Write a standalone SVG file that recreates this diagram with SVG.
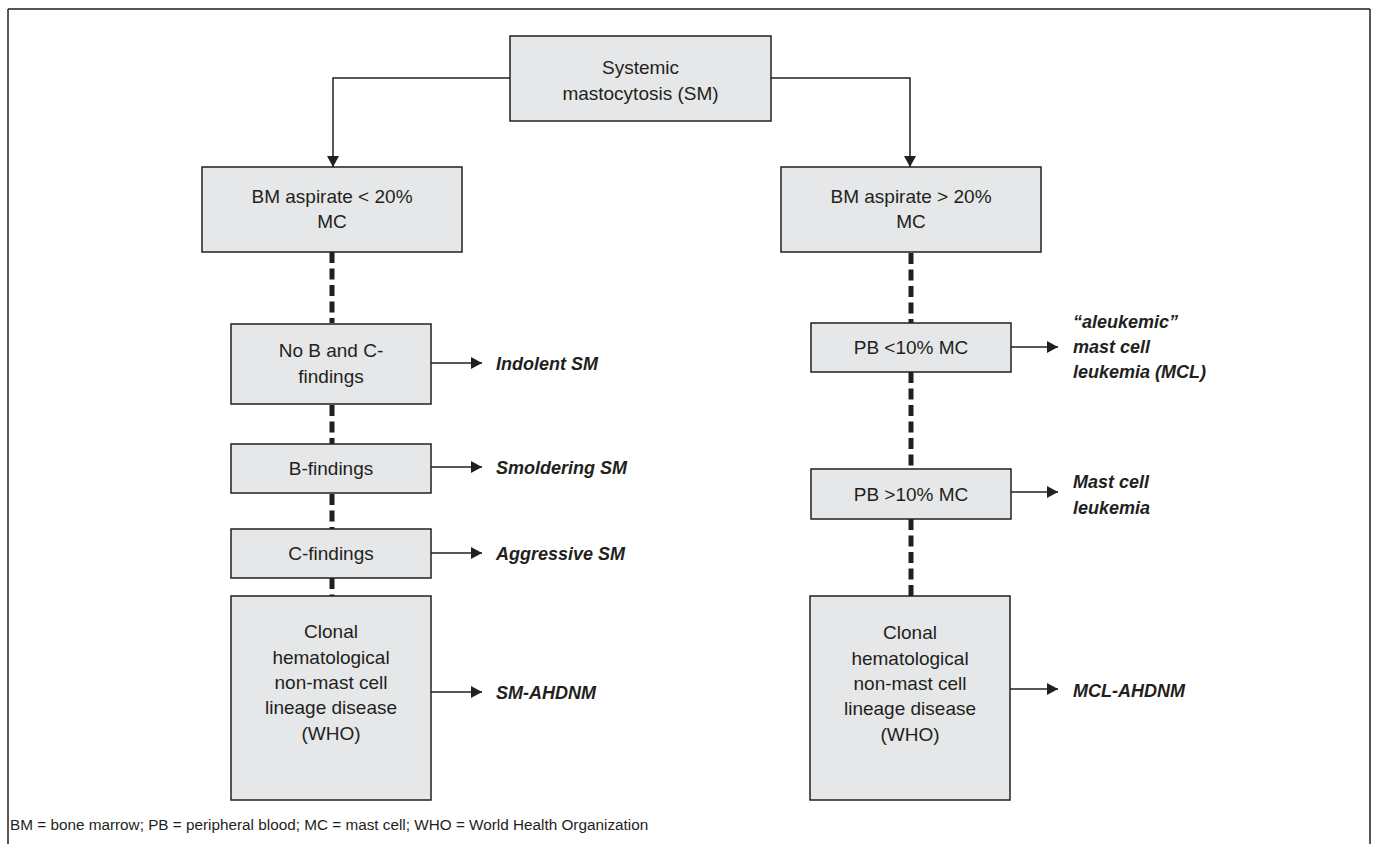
<svg xmlns="http://www.w3.org/2000/svg" width="1375" height="844" viewBox="0 0 1375 844">
<defs>
<marker id="ah" markerWidth="12" markerHeight="12" refX="11" refY="6" orient="auto" markerUnits="userSpaceOnUse">
<path d="M0,0 L11,6 L0,12 Z" fill="#231f20"/>
</marker>
<style>
.box{fill:#e6e7e8;stroke:#231f20;stroke-width:1.5}
.t{font-family:"Liberation Sans",Arial,sans-serif;font-size:19px;fill:#231f20;text-anchor:middle}
.lab{font-family:"Liberation Sans",Arial,sans-serif;font-size:18px;font-weight:bold;font-style:italic;fill:#231f20}
.con{fill:none;stroke:#231f20;stroke-width:1.5}
.dash{fill:none;stroke:#231f20;stroke-width:5;stroke-dasharray:11 5.5}
.foot{font-family:"Liberation Sans",Arial,sans-serif;font-size:15.3px;fill:#231f20}
</style>
</defs>
<rect width="1375" height="844" fill="#ffffff"/>
<g id="frame">
<line x1="8" y1="9" x2="1370" y2="9" stroke="#555" stroke-width="2"/>
<line x1="8" y1="9" x2="8" y2="844" stroke="#231f20" stroke-width="1.5"/>
<line x1="1370" y1="9" x2="1370" y2="844" stroke="#231f20" stroke-width="1.5"/>
</g>
<g id="connectors">
<path class="con" d="M510,78 H333 V167" marker-end="url(#ah)"/>
<path class="con" d="M771,78 H910 V167" marker-end="url(#ah)"/>
<line class="dash" x1="332" y1="252" x2="332" y2="323"/>
<line class="dash" x1="332" y1="405" x2="332" y2="444"/>
<line class="dash" x1="332" y1="494" x2="332" y2="529"/>
<line class="dash" x1="332" y1="578" x2="332" y2="596"/>
<line class="dash" x1="911" y1="253" x2="911" y2="323"/>
<line class="dash" x1="911" y1="372" x2="911" y2="469"/>
<line class="dash" x1="911" y1="519" x2="911" y2="596"/>
<line class="con" x1="431" y1="363" x2="482" y2="363" marker-end="url(#ah)"/>
<line class="con" x1="431" y1="467" x2="482" y2="467" marker-end="url(#ah)"/>
<line class="con" x1="431" y1="553" x2="482" y2="553" marker-end="url(#ah)"/>
<line class="con" x1="431" y1="692" x2="482" y2="692" marker-end="url(#ah)"/>
<line class="con" x1="1011" y1="347" x2="1058" y2="347" marker-end="url(#ah)"/>
<line class="con" x1="1011" y1="492" x2="1058" y2="492" marker-end="url(#ah)"/>
<line class="con" x1="1010" y1="689" x2="1058" y2="689" marker-end="url(#ah)"/>
</g>
<g id="n-sm">
<rect class="box" x="510" y="36" width="261" height="85"/>
<text class="t" x="640.5" y="74">Systemic</text>
<text class="t" x="640.5" y="100">mastocytosis (SM)</text>
</g>
<g id="n-bm-low">
<rect class="box" x="202" y="167" width="260" height="85"/>
<text class="t" x="332" y="203">BM aspirate &lt; 20%</text>
<text class="t" x="332" y="228">MC</text>
</g>
<g id="n-bm-high">
<rect class="box" x="781" y="167" width="260" height="85"/>
<text class="t" x="911" y="203">BM aspirate &gt; 20%</text>
<text class="t" x="911" y="228">MC</text>
</g>
<g id="n-nobc">
<rect class="box" x="231" y="324" width="200" height="80"/>
<text class="t" x="331" y="357">No B and C-</text>
<text class="t" x="331" y="383">findings</text>
</g>
<g id="n-b">
<rect class="box" x="231" y="444" width="200" height="49"/>
<text class="t" x="331" y="475">B-findings</text>
</g>
<g id="n-c">
<rect class="box" x="231" y="529" width="200" height="49"/>
<text class="t" x="331" y="560">C-findings</text>
</g>
<g id="n-clonal-left">
<rect class="box" x="231" y="596" width="200" height="204"/>
<text class="t" x="331" y="638">Clonal</text>
<text class="t" x="331" y="664">hematological</text>
<text class="t" x="331" y="689">non-mast cell</text>
<text class="t" x="331" y="714">lineage disease</text>
<text class="t" x="331" y="740">(WHO)</text>
</g>
<g id="n-pb-low">
<rect class="box" x="811" y="323" width="200" height="49"/>
<text class="t" x="911" y="354">PB &lt;10% MC</text>
</g>
<g id="n-pb-high">
<rect class="box" x="811" y="469" width="200" height="50"/>
<text class="t" x="911" y="501">PB &gt;10% MC</text>
</g>
<g id="n-clonal-right">
<rect class="box" x="810" y="596" width="200" height="204"/>
<text class="t" x="910" y="639">Clonal</text>
<text class="t" x="910" y="665">hematological</text>
<text class="t" x="910" y="690">non-mast cell</text>
<text class="t" x="910" y="715">lineage disease</text>
<text class="t" x="910" y="741">(WHO)</text>
</g>
<g id="labels">
<text class="lab" x="496" y="370">Indolent SM</text>
<text class="lab" x="496" y="474">Smoldering SM</text>
<text class="lab" x="496" y="560">Aggressive SM</text>
<text class="lab" x="496" y="699">SM-AHDNM</text>
<text class="lab" x="1073" y="328">“aleukemic”</text>
<text class="lab" x="1073" y="353">mast cell</text>
<text class="lab" x="1073" y="378">leukemia (MCL)</text>
<text class="lab" x="1073" y="488">Mast cell</text>
<text class="lab" x="1073" y="514">leukemia</text>
<text class="lab" x="1073" y="697">MCL-AHDNM</text>
</g>
<text class="foot" x="10" y="830">BM = bone marrow; PB = peripheral blood; MC = mast cell; WHO = World Health Organization</text>
</svg>
